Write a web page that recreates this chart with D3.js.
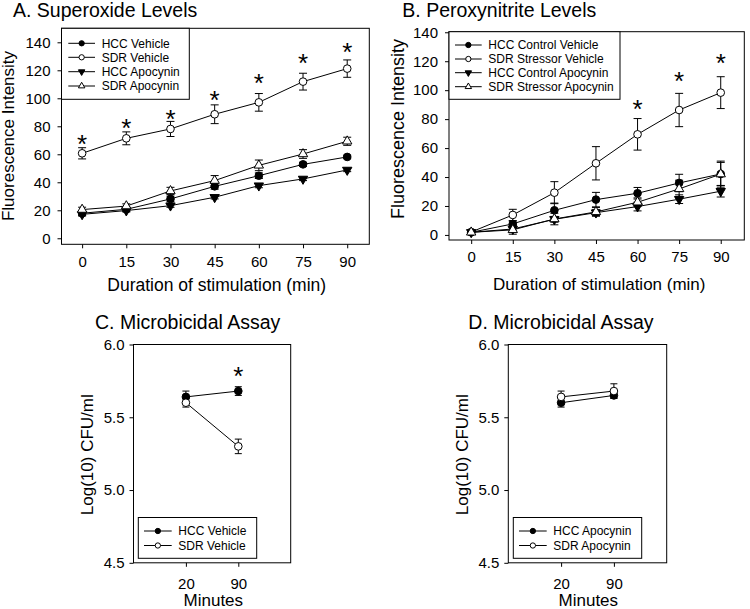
<!DOCTYPE html>
<html><head><meta charset="utf-8">
<script src="https://cdn.jsdelivr.net/npm/d3@7/dist/d3.min.js"></script>
<style>
body{margin:0;background:#fff}
svg{display:block}
text{font-family:"Liberation Sans",Arial,Helvetica,sans-serif;fill:#000}
</style>
</head><body>
<svg id="chart" width="750" height="609"></svg>
<script>
// ---------------- DATA ----------------
const timesAB = [0, 15, 30, 45, 60, 75, 90];
const yTicksAB = [0, 20, 40, 60, 80, 100, 120, 140];
const minutesCD = ["20", "90"];
const yTicksCD = [4.5, 5.0, 5.5, 6.0];

// Panel A: Superoxide Levels
const aHccVeh = [17.9, 20.7, 28.1, 37.1, 44.7, 52.8, 58.1];
const aHccVehErr = [1.5, 1.5, 2.0, 2.0, 2.0, 1.5, 1.2];
const aSdrVeh = [60.7, 71.4, 78.1, 88.6, 97.1, 111.9, 121.2];
const aSdrVehErr = [4.0, 4.6, 5.4, 6.7, 6.3, 6.0, 6.2];
const aHccApo = [17.1, 19.8, 23.3, 29.3, 37.6, 42.4, 48.8];
const aHccApoErr = [1.2, 1.0, 1.2, 1.2, 1.5, 1.2, 1.2];
const aSdrApo = [20.5, 23.0, 33.8, 41.2, 52.1, 60.2, 69.3];
const aSdrApoErr = [1.7, 1.6, 2.6, 3.6, 3.8, 3.1, 2.9];
const aStarTimes = [0, 15, 30, 45, 60, 75, 90];
const aStarLevels = [71.4, 83.3, 89.7, 103.0, 115.4, 129.3, 137.4];

// Panel B: Peroxynitrite Levels
const bHccVeh = [1.8, 7.6, 17.0, 24.4, 28.8, 35.9, 42.1];
const bHccVehErr = [0, 2.0, 5.0, 5.0, 4.0, 6.0, 8.0];
const bSdrVeh = [2.0, 13.8, 29.2, 49.5, 69.5, 86.3, 98.3];
const bSdrVehErr = [0, 3.9, 7.6, 11.5, 10.9, 11.5, 11.0];
const bHccApo = [1.8, 4.1, 10.8, 15.4, 19.6, 24.7, 30.2];
const bHccApoErr = [0, 1.0, 2.0, 2.0, 3.0, 3.0, 4.0];
const bSdrApo = [1.8, 3.5, 11.0, 15.9, 22.6, 31.8, 42.0];
const bSdrApoErr = [0, 3.0, 4.0, 3.0, 3.0, 6.0, 9.0];
const bStarTimes = [60, 75, 90];
const bStarLevels = [91.0, 110.5, 123.1];

// Panel C: Microbicidal Assay (vehicle)
const cHccVeh = [5.64, 5.68];
const cHccVehErr = [0.04, 0.03];
const cSdrVeh = [5.60, 5.30];
const cSdrVehErr = [0.03, 0.05];
const cStarTimes = ["90"];
const cStarLevels = [5.824];

// Panel D: Microbicidal Assay (apocynin)
const dHccApo = [5.60, 5.65];
const dHccApoErr = [0.03, 0.02];
const dSdrApo = [5.64, 5.68];
const dSdrApoErr = [0.04, 0.05];

// ---------------- DRAWING ----------------
const svg = d3.select("#chart");
const FONT = '"Liberation Sans",Arial,Helvetica,sans-serif';

const symType = {
  circle: d3.symbolCircle, tri: d3.symbolTriangle, triDown: d3.symbolTriangle
};
function marker(g, kind, filled, x, y, big) {
  const size = kind === "circle" ? (big ? 46 : 22) : (big ? 38 : 18);
  g.append("path")
    .attr("d", d3.symbol().type(symType[kind]).size(size)())
    .attr("transform", `translate(${x},${y})` + (kind === "triDown" ? " rotate(180)" : ""))
    .attr("fill", filled ? "#000" : "#fff")
    .attr("stroke", "#000").attr("stroke-width", 1);
}

function drawPanel(p) {
  const g = svg.append("g");
  const x = p.x, y = p.y;
  const [fx0, fx1] = x.range();
  const [fy1, fy0] = y.range();

  // frame
  g.append("rect").attr("x", fx0).attr("y", fy0)
    .attr("width", fx1 - fx0).attr("height", fy1 - fy0)
    .attr("fill", "none").attr("stroke", "#000").attr("stroke-width", 1);

  // axes
  const ya = g.append("g").attr("transform", `translate(${fx0},0)`)
    .call(d3.axisLeft(y).tickValues(p.yTicks).tickFormat(p.yFmt)
      .tickSize(4).tickPadding(p.yPad).tickSizeOuter(0));
  ya.select(".domain").remove();
  ya.attr("font-size", 15).attr("font-family", FONT);
  ya.selectAll("text").attr("fill", "#000");

  const xa = g.append("g").attr("transform", `translate(0,${fy1})`)
    .call(d3.axisBottom(x).tickValues(p.xTicks)
      .tickSize(4).tickPadding(p.xPad).tickSizeOuter(0));
  xa.select(".domain").remove();
  xa.attr("font-size", 15).attr("font-family", FONT);
  xa.selectAll("text").attr("fill", "#000");

  // series
  const line = d3.line().x(d => x(d.t)).y(d => y(d.v));
  p.series.forEach(s => {
    const pts = p.xTicks.map((t, i) => ({ t, v: s.values[i], e: s.err[i] }));
    g.append("path").datum(pts).attr("d", line)
      .attr("fill", "none").attr("stroke", "#000").attr("stroke-width", 1);
    pts.forEach(d => {
      if (!d.e) return;
      const cx = x(d.t), top = y(d.v + d.e), bot = y(d.v - d.e), hw = p.cap;
      g.append("line").attr("x1", cx).attr("x2", cx).attr("y1", top).attr("y2", bot)
        .attr("stroke", "#000").attr("stroke-width", 1);
      [top, bot].forEach(yy => g.append("line")
        .attr("x1", cx - hw).attr("x2", cx + hw).attr("y1", yy).attr("y2", yy)
        .attr("stroke", "#000").attr("stroke-width", 1));
    });
  });
  p.series.forEach(s => {
    p.xTicks.forEach((t, i) => marker(g, s.sym, s.fill, x(t), y(s.values[i]), true));
  });

  // significance stars
  p.starTimes.forEach((t, i) => {
    g.append("text").attr("x", x(t)).attr("y", y(p.starLevels[i]) + 15)
      .attr("text-anchor", "middle").attr("font-size", 26).text("*");
  });

  // titles
  g.append("text").attr("x", p.title.x).attr("y", p.title.y)
    .attr("font-size", 19.5).text(p.title.text);
  g.append("text")
    .attr("transform", `translate(${p.yTitle.x},${p.yTitle.y}) rotate(-90)`)
    .attr("text-anchor", "middle").attr("font-size", p.yTitle.size).text(p.yTitle.text);
  g.append("text").attr("x", p.xTitle.x).attr("y", p.xTitle.y)
    .attr("text-anchor", "middle").attr("font-size", p.xTitle.size).text(p.xTitle.text);

  // legend
  const L = p.legend;
  g.append("rect").attr("x", L.x0).attr("y", L.y0)
    .attr("width", L.x1 - L.x0).attr("height", L.y1 - L.y0)
    .attr("fill", "#fff").attr("stroke", "#000").attr("stroke-width", 1);
  p.series.forEach((s, i) => {
    const yy = L.rows[i];
    g.append("line").attr("x1", L.lx0).attr("x2", L.lx1).attr("y1", yy).attr("y2", yy)
      .attr("stroke", "#000").attr("stroke-width", 1);
    marker(g, s.sym, s.fill, (L.lx0 + L.lx1) / 2, yy, false);
    g.append("text").attr("x", L.tx).attr("y", yy + 4.4)
      .attr("font-size", L.size).text(s.name);
  });
}

// Panel A
drawPanel({
  x: d3.scaleLinear().domain([-7, 97.5]).range([61.5, 369.3]),
  y: d3.scaleLinear().domain([-4.3, 150]).range([244.3, 28.3]),
  xTicks: timesAB, yTicks: yTicksAB, yFmt: d3.format("d"), yPad: 7, xPad: 8, cap: 4,
  series: [
    { name: "HCC Vehicle", values: aHccVeh, err: aHccVehErr, sym: "circle", fill: true },
    { name: "SDR Vehicle", values: aSdrVeh, err: aSdrVehErr, sym: "circle", fill: false },
    { name: "HCC Apocynin", values: aHccApo, err: aHccApoErr, sym: "triDown", fill: true },
    { name: "SDR Apocynin", values: aSdrApo, err: aSdrApoErr, sym: "tri", fill: false }
  ],
  starTimes: aStarTimes, starLevels: aStarLevels,
  title: { x: 13, y: 17, text: "A. Superoxide Levels" },
  yTitle: { x: 13.5, y: 136, size: 17, text: "Fluorescence Intensity" },
  xTitle: { x: 216.7, y: 291, size: 17.5, text: "Duration of stimulation (min)" },
  legend: { x0: 61.5, y0: 28.3, x1: 189.3, y1: 99.3, rows: [43.3, 57.3, 71.7, 86],
            lx0: 68.3, lx1: 95, tx: 101.7, size: 12 }
});

// Panel B
drawPanel({
  x: d3.scaleLinear().domain([-8, 98.5]).range([449, 744.3]),
  y: d3.scaleLinear().domain([-3.5, 140.4]).range([240, 31.7]),
  xTicks: timesAB, yTicks: yTicksAB, yFmt: d3.format("d"), yPad: 7, xPad: 7, cap: 4,
  series: [
    { name: "HCC Control Vehicle", values: bHccVeh, err: bHccVehErr, sym: "circle", fill: true },
    { name: "SDR Stressor Vehicle", values: bSdrVeh, err: bSdrVehErr, sym: "circle", fill: false },
    { name: "HCC Control Apocynin", values: bHccApo, err: bHccApoErr, sym: "triDown", fill: true },
    { name: "SDR Stressor Apocynin", values: bSdrApo, err: bSdrApoErr, sym: "tri", fill: false }
  ],
  starTimes: bStarTimes, starLevels: bStarLevels,
  title: { x: 402.3, y: 17, text: "B. Peroxynitrite Levels" },
  yTitle: { x: 404.3, y: 129, size: 18, text: "Fluorescence Intensity" },
  xTitle: { x: 599.2, y: 289.5, size: 17, text: "Duration of stimulation (min)" },
  legend: { x0: 449, y0: 31.7, x1: 620, y1: 99.3, rows: [45, 59, 72.7, 86.7],
            lx0: 455, lx1: 481.7, tx: 488.3, size: 12 }
});

// Panel C
drawPanel({
  x: d3.scalePoint().domain(minutesCD).range([133.5, 290.7]).padding(1),
  y: d3.scaleLinear().domain([4.5, 6.0]).range([562.8, 344.5]),
  xTicks: minutesCD, yTicks: yTicksCD, yFmt: d3.format(".1f"), yPad: 5, xPad: 12, cap: 3.5,
  series: [
    { name: "HCC Vehicle", values: cHccVeh, err: cHccVehErr, sym: "circle", fill: true },
    { name: "SDR Vehicle", values: cSdrVeh, err: cSdrVehErr, sym: "circle", fill: false }
  ],
  starTimes: cStarTimes, starLevels: cStarLevels,
  title: { x: 95, y: 328.5, text: "C. Microbicidal Assay" },
  yTitle: { x: 93.3, y: 454.7, size: 17, text: "Log(10) CFU/ml" },
  xTitle: { x: 213.3, y: 606, size: 17, text: "Minutes" },
  legend: { x0: 138.3, y0: 517.5, x1: 256.7, y1: 558.3, rows: [531, 545.5],
            lx0: 144, lx1: 171.7, tx: 178.3, size: 12 }
});

// Panel D
drawPanel({
  x: d3.scalePoint().domain(minutesCD).range([508.3, 666.7]).padding(1),
  y: d3.scaleLinear().domain([4.5, 6.0]).range([562.8, 344.5]),
  xTicks: minutesCD, yTicks: yTicksCD, yFmt: d3.format(".1f"), yPad: 5, xPad: 12, cap: 3.5,
  series: [
    { name: "HCC Apocynin", values: dHccApo, err: dHccApoErr, sym: "circle", fill: true },
    { name: "SDR Apocynin", values: dSdrApo, err: dSdrApoErr, sym: "circle", fill: false }
  ],
  starTimes: [], starLevels: [],
  title: { x: 468.3, y: 328.5, text: "D. Microbicidal Assay" },
  yTitle: { x: 468.3, y: 454.7, size: 17, text: "Log(10) CFU/ml" },
  xTitle: { x: 588.3, y: 606, size: 17, text: "Minutes" },
  legend: { x0: 513.3, y0: 517.5, x1: 641.7, y1: 558.3, rows: [531, 545.5],
            lx0: 519, lx1: 546.7, tx: 553.3, size: 12 }
});
</script>
</body></html>
